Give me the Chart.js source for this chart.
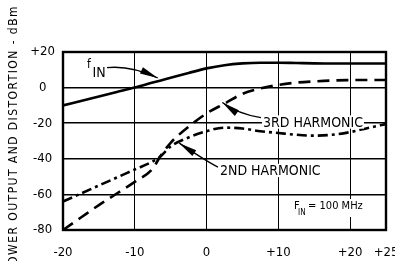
<!DOCTYPE html>
<html>
<head>
<meta charset="utf-8">
<script src="https://cdn.jsdelivr.net/npm/chart.js@4/dist/chart.umd.min.js"></script>
<style>
  html, body { margin: 0; padding: 0; background: #fff; }
  #wrap { width: 395px; height: 261px; position: relative; }
</style>
</head>
<body>
<div id="wrap"><canvas id="harmChart" width="395" height="261"></canvas></div>
<script>
// input power (dBm) on the x axis
const inputPower = [-20, -17.5, -15, -12.5, -10, -7.5, -6.5, -5, -2.5, 0, 2.5, 5, 7.5, 10, 12.5, 15, 17.5, 20, 22.5, 25];
// output at f_IN
const fundamental = [-10, -7.5, -5, -2.5, 0, 2.8, 3.9, 5.5, 8.2, 10.8, 12.6, 13.6, 14, 14, 13.8, 13.6, 13.5, 13.5, 13.5, 13.5];
// 3rd harmonic (dashed)
const thirdHarmonic = [-80, -73, -66, -59.5, -53, -45.5, -39, -31, -22, -14.5, -9, -3.5, -0.5, 1.5, 2.8, 3.5, 4, 4.2, 4.3, 4.3];
// 2nd harmonic (dash-dot)
const secondHarmonic = [-64, -59.5, -55, -50.5, -46, -41.5, -39, -33, -28, -24.5, -22.5, -23, -24.5, -25.5, -26.5, -27, -26.5, -25, -22.7, -20.5];

const xTicks = [-20, -10, 0, 10, 20, 25];
const yTicks = [20, 0, -20, -40, -60, -80];
const yTitle = 'POWER OUTPUT AND DISTORTION - dBm';

const FONT = "'Liberation Sans Narrow', 'DejaVu Sans Condensed', 'Liberation Sans', sans-serif";

function toPoints(ys) {
    return inputPower.map((x, i) => ({x: x, y: ys[i]}));
}

function signed(v) {
    return v > 0 ? '+' + v : String(v);
}

// labels, leaders and frame drawn on top of the plot
const annotations = {
    id: 'annotations',
    afterDatasetsDraw(chart) {
        const ctx = chart.ctx;
        const xs = chart.scales.x, ys = chart.scales.y;
        const P = (x, y) => [xs.getPixelForValue(x), ys.getPixelForValue(y)];
        const area = chart.chartArea;

        ctx.save();
        // frame
        ctx.strokeStyle = '#000';
        ctx.lineWidth = 2.4;
        ctx.strokeRect(area.left, area.top, area.right - area.left, area.bottom - area.top);

        ctx.fillStyle = '#000';
        ctx.textBaseline = 'alphabetic';

        function arrow(from, ctrl, tip, len, wid) {
            const a = P(...from), c = P(...ctrl), t = P(...tip);
            ctx.beginPath();
            ctx.lineWidth = 1.3;
            ctx.moveTo(a[0], a[1]);
            ctx.quadraticCurveTo(c[0], c[1], t[0], t[1]);
            ctx.stroke();
            const ang = Math.atan2(t[1] - c[1], t[0] - c[0]);
            ctx.beginPath();
            ctx.moveTo(t[0], t[1]);
            ctx.lineTo(t[0] - len * Math.cos(ang) + wid * Math.sin(ang), t[1] - len * Math.sin(ang) - wid * Math.cos(ang));
            ctx.lineTo(t[0] - len * Math.cos(ang) - wid * Math.sin(ang), t[1] - len * Math.sin(ang) + wid * Math.cos(ang));
            ctx.closePath();
            ctx.fill();
        }

        function boxedText(txt, x, y, size) {
            const p = P(x, y);
            ctx.font = size + 'px ' + FONT;
            const w = ctx.measureText(txt).width;
            ctx.fillStyle = '#fff';
            ctx.fillRect(p[0] - 1, p[1] - size * 0.8, w + 2, size * 0.95);
            ctx.fillStyle = '#000';
            ctx.fillText(txt, p[0], p[1]);
        }

        // f_IN
        ctx.font = '12px ' + FONT;
        let p = P(-16.66, 11.2);
        ctx.fillText('f', p[0], p[1]);
        ctx.font = '14px ' + FONT;
        p = P(-15.9, 6.1);
        ctx.fillText('IN', p[0], p[1]);
        arrow([-13.87, 11.2], [-10.6, 12.6], [-6.8, 5.4], 18, 3.5);

        // 3rd harmonic
        boxedText('3RD HARMONIC', 7.86, -21.9, 14);
        arrow([7.58, -16.9], [4.4, -14.9], [2.2, -8.4], 18, 3.5);

        // 2nd harmonic
        boxedText('2ND HARMONIC', 1.87, -49.1, 14);
        arrow([1.59, -44.7], [0.2, -41.9], [-3.8, -31.2], 18, 3.5);

        // F_IN = 100 MHz
        p = P(12.2, -68.2);
        ctx.font = '11px ' + FONT;
        ctx.fillStyle = '#fff';
        ctx.fillRect(p[0] - 2, p[1] - 10, 76, 18);
        ctx.fillStyle = '#000';
        ctx.fillText('F', p[0], p[1]);
        ctx.font = '8px ' + FONT;
        ctx.fillText('IN', p[0] + 4, p[1] + 6);
        ctx.font = '11px ' + FONT;
        ctx.fillText('= 100 MHz', p[0] + 14, p[1]);

        // rotated axis title, clipped at the left/bottom as in the scan
        ctx.font = '12px ' + FONT;
        const visible = yTitle.slice(2);
        const wv = ctx.measureText(visible).width;
        const ls = (250 - wv) / visible.length;
        if ('letterSpacing' in ctx) ctx.letterSpacing = ls.toFixed(2) + 'px';
        ctx.translate(17, 5);
        ctx.rotate(-Math.PI / 2);
        ctx.textAlign = 'right';
        ctx.fillText(yTitle, 0, 0);
        ctx.restore();
    }
};

document.addEventListener('DOMContentLoaded', () => {
    const ctx = document.getElementById('harmChart').getContext('2d');
    new Chart(ctx, {
        type: 'line',
        data: {
            datasets: [
                {label: 'f IN', data: toPoints(fundamental), borderColor: '#000', borderWidth: 2.6, pointRadius: 0},
                {label: '3RD HARMONIC', data: toPoints(thirdHarmonic), borderColor: '#000', borderWidth: 2.6, borderDash: [12, 7], pointRadius: 0},
                {label: '2ND HARMONIC', data: toPoints(secondHarmonic), borderColor: '#000', borderWidth: 2.6, borderDash: [10, 4, 3, 4], pointRadius: 0}
            ]
        },
        options: {
            responsive: false,
            animation: false,
            cubicInterpolationMode: 'monotone',
            layout: {padding: {top: 52, right: 9, bottom: 0, left: 0}},
            plugins: {legend: {display: false}, tooltip: {enabled: false}},
            scales: {
                x: {
                    type: 'linear', min: -20, max: 25,
                    afterBuildTicks: s => { s.ticks = xTicks.map(v => ({value: v})); },
                    afterFit: s => { s.height = 31; s.paddingLeft = 0; s.paddingRight = 0; },
                    ticks: {autoSkip: false, maxRotation: 0, padding: 15, color: '#000',
                        font: {family: FONT, size: 13}, callback: v => signed(v)},
                    grid: {color: '#000', lineWidth: 1, drawTicks: false},
                    border: {display: false}
                },
                y: {
                    min: -80, max: 20,
                    afterBuildTicks: s => { s.ticks = yTicks.map(v => ({value: v})); },
                    afterFit: s => { s.width = 63; s.paddingTop = 0; s.paddingBottom = 0; },
                    ticks: {padding: 8, crossAlign: 'center', color: '#000',
                        font: {family: FONT, size: 13}, callback: v => signed(v)},
                    grid: {color: '#000', lineWidth: 1.5, drawTicks: false},
                    border: {display: false}
                }
            }
        },
        plugins: [annotations]
    });
});
</script>
</body>
</html>
